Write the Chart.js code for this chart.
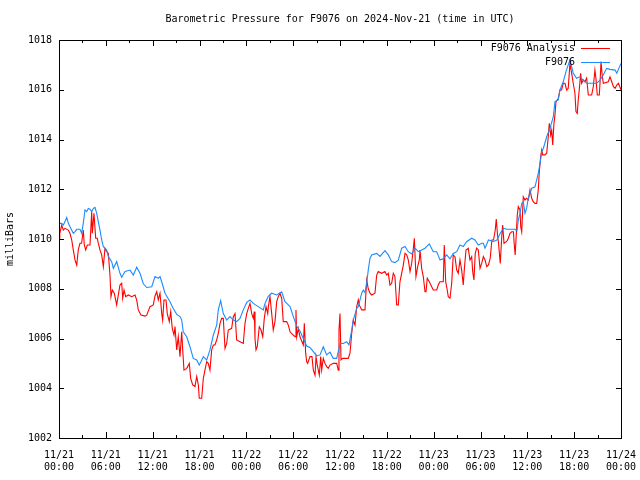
<!DOCTYPE html>
<html>
<head>
<meta charset="utf-8">
<script src="https://cdn.jsdelivr.net/npm/chart.js@4/dist/chart.umd.min.js"></script>
<style>
  html, body { margin: 0; padding: 0; background: #fff; }
  #wrap { width: 640px; height: 480px; }
</style>
</head>
<body>
<div id="wrap"><canvas id="chart"></canvas></div>
<script>
// Barometric pressure, hours since 2024-11-21 00:00 UTC
const titleText = 'Barometric Pressure for F9076 on 2024-Nov-21 (time in UTC)';
const yTitle = 'milliBars';
const tickDates = ['11/21', '11/21', '11/21', '11/21', '11/22', '11/22', '11/22', '11/22', '11/23', '11/23', '11/23', '11/23', '11/24'];
const tickTimes = ['00:00', '06:00', '12:00', '18:00', '00:00', '06:00', '12:00', '18:00', '00:00', '06:00', '12:00', '18:00', '00:00'];

// "F9076 Analysis" (red)
const analysisHours = [
  0, 0.1, 0.35, 0.55, 0.77, 1.2, 1.4, 1.63, 1.83, 2.05, 2.27, 2.47, 2.69, 2.9, 3.11, 3.24, 3.42, 3.63, 3.97, 4.19,
  4.27, 4.48, 4.7, 4.9, 5.03, 5.25, 5.47, 5.68, 5.89, 6.11, 6.32, 6.53, 6.66, 6.83, 7.08, 7.39, 7.81, 8.03, 8.16, 8.33,
  8.54, 8.88, 9.31, 9.74, 9.95, 10.16, 10.5, 11.02, 11.24, 11.66, 12.08, 12.3, 12.52, 12.72, 12.94, 13.16, 13.28, 13.45, 13.71, 13.87,
  14.13, 14.31, 14.51, 14.73, 14.86, 15.08, 15.28, 15.5, 15.72, 15.85, 16.01, 16.36, 16.69, 16.87, 17.13, 17.42, 17.64, 17.85, 17.97, 18.28,
  18.49, 18.7, 18.92, 19.12, 19.34, 19.56, 19.77, 19.98, 20.2, 20.41, 20.63, 20.84, 21.05, 21.18, 21.27, 21.48, 21.69, 22.12, 22.33, 22.55,
  22.76, 23.19, 23.61, 23.83, 24.05, 24.25, 24.47, 24.69, 24.89, 25.02, 25.11, 25.24, 25.4, 25.66, 25.88, 26.1, 26.3, 26.52, 26.74, 26.82,
  27.03, 27.25, 27.45, 27.67, 27.89, 28.09, 28.31, 28.53, 28.73, 29.17, 29.38, 29.6, 30.02, 30.24, 30.36, 30.45, 30.66, 30.87, 31.3, 31.43,
  31.6, 31.73, 31.86, 32.15, 32.41, 32.58, 32.8, 32.93, 33.09, 33.35, 33.53, 33.65, 33.86, 34.08, 34.29, 34.5, 34.72, 35.14, 35.58, 35.78,
  35.87, 36.0, 36.13, 36.34, 36.77, 37.06, 37.28, 37.5, 37.7, 37.92, 38.14, 38.34, 38.47, 38.78, 39.2, 39.42, 39.62, 39.84, 40.06, 40.48,
  40.7, 40.9, 41.34, 41.76, 41.98, 42.19, 42.4, 42.62, 42.83, 43.04, 43.26, 43.47, 43.68, 43.9, 44.11, 44.33, 44.54, 44.75, 44.97, 45.18,
  45.4, 45.52, 45.73, 45.95, 46.16, 46.25, 46.46, 46.67, 46.89, 47.02, 47.18, 47.44, 47.75, 47.95, 48.39, 48.59, 48.81, 49.23, 49.36, 49.54,
  49.74, 49.87, 50.09, 50.31, 50.51, 50.73, 50.95, 51.15, 51.37, 51.59, 51.79, 51.92, 52.14, 52.43, 52.65, 52.87, 53.0, 53.16, 53.33, 53.51,
  53.72, 53.94, 54.15, 54.37, 54.58, 54.8, 55.02, 55.24, 55.46, 55.67, 55.89, 56.02, 56.18, 56.31, 56.53, 56.75, 56.84, 57.01, 57.36, 57.57,
  57.78, 58.0, 58.22, 58.31, 58.44, 58.57, 58.71, 58.84, 59.06, 59.15, 59.28, 59.48, 59.7, 59.91, 60.12, 60.34, 60.56, 60.76, 60.98, 61.2,
  61.4, 61.53, 61.71, 61.84, 61.97, 62.26, 62.48, 62.68, 62.81, 62.99, 63.12, 63.25, 63.41, 63.54, 63.67, 63.96, 64.18, 64.39, 64.6, 64.82,
  65.04, 65.24, 65.46, 65.68, 65.88, 66.1, 66.23, 66.4, 66.52, 66.65, 66.83, 66.96, 67.17, 67.38, 67.6, 67.81, 68.24, 68.45, 68.66, 68.79,
  68.96, 69.22, 69.31, 69.44, 69.57, 69.73, 70.37, 70.59, 70.81, 71.03, 71.24, 71.46, 71.67, 72
];
const analysisValues = [
  1010.03, 1010.23, 1010.56, 1010.36, 1010.43, 1010.36, 1010.23, 1009.96, 1009.56, 1009.16, 1008.95, 1009.56, 1009.83, 1009.83, 1010.36, 1009.76, 1009.56, 1009.76, 1009.76, 1011.1,
  1010.23, 1011.03, 1010.03, 1010.03, 1009.83, 1009.56, 1009.36, 1008.89, 1009.63, 1009.49, 1009.42, 1008.55, 1007.68, 1007.95, 1007.82, 1007.35, 1008.15, 1008.22, 1007.62, 1007.95,
  1007.68, 1007.75, 1007.68, 1007.75, 1007.55, 1007.15, 1006.94, 1006.9, 1006.94, 1007.28, 1007.35, 1007.71, 1007.88, 1007.55, 1007.82, 1007.0, 1006.74, 1007.55, 1007.55, 1007.0,
  1006.68, 1007.08, 1006.41, 1006.14, 1006.48, 1005.54, 1006.07, 1005.27, 1006.27, 1005.54, 1004.73, 1004.8, 1005.0, 1004.4, 1004.13, 1004.07, 1004.47, 1004.13, 1003.6, 1003.6,
  1004.4, 1004.73, 1005.07, 1005.0, 1004.73, 1005.54, 1005.74, 1005.74, 1005.94, 1006.21, 1006.61, 1006.81, 1006.81, 1006.07, 1005.6, 1005.8, 1006.34, 1006.41, 1006.88, 1007.0,
  1005.94, 1005.87, 1005.8, 1006.61, 1007.0, 1007.21, 1007.41, 1007.0, 1006.81, 1007.08, 1006.0, 1005.54, 1005.67, 1006.47, 1006.34, 1006.07, 1006.81, 1007.28, 1007.0, 1007.28,
  1007.68, 1007.0, 1006.34, 1006.68, 1007.48, 1007.68, 1007.82, 1007.62, 1006.68, 1006.68, 1006.54, 1006.27, 1006.14, 1006.07, 1007.15, 1006.07, 1006.41, 1006.07, 1005.74, 1006.61,
  1005.41, 1005.07, 1005.0, 1005.27, 1005.27, 1004.73, 1004.53, 1005.27, 1004.93, 1004.53, 1005.27, 1004.73, 1005.2, 1005.0, 1004.87, 1004.8, 1004.93, 1005.0, 1005.0, 1004.73,
  1006.34, 1007.0, 1005.14, 1005.2, 1005.2, 1005.2, 1005.41, 1006.21, 1006.74, 1006.54, 1007.28, 1007.55, 1007.35, 1007.15, 1007.15, 1008.35, 1008.0, 1007.82, 1007.75, 1007.82,
  1008.55, 1008.69, 1008.62, 1008.69, 1008.55, 1008.62, 1008.15, 1008.22, 1008.62, 1008.49, 1007.35, 1007.35, 1008.28, 1008.62, 1008.95, 1009.42, 1009.36, 1009.16, 1008.69, 1009.02,
  1009.63, 1010.03, 1008.49, 1008.89, 1009.16, 1009.56, 1008.82, 1008.49, 1007.88, 1007.88, 1008.42, 1008.28, 1008.08, 1007.95, 1007.95, 1008.15, 1008.28, 1008.28, 1009.76, 1008.28,
  1007.95, 1007.68, 1007.62, 1008.22, 1009.36, 1009.29, 1008.75, 1008.62, 1009.16, 1008.75, 1008.15, 1008.75, 1009.56, 1009.63, 1009.16, 1009.29, 1008.69, 1008.35, 1009.42, 1009.63,
  1009.56, 1008.82, 1009.02, 1009.29, 1009.16, 1008.89, 1008.96, 1009.22, 1009.96, 1009.96, 1010.36, 1010.8, 1010.16, 1009.83, 1009.02, 1010.23, 1010.56, 1009.83, 1009.9, 1010.03,
  1010.23, 1010.29, 1010.29, 1009.83, 1009.36, 1010.1, 1010.96, 1011.3, 1011.17, 1010.5, 1010.29, 1011.7, 1011.57, 1011.64, 1011.57, 1011.97, 1011.64, 1011.5, 1011.43, 1011.43,
  1011.97, 1012.7, 1013.31, 1013.58, 1013.38, 1013.38, 1013.45, 1014.11, 1014.65, 1014.18, 1014.38, 1013.78, 1014.65, 1014.99, 1015.52, 1015.65, 1015.99, 1015.99, 1016.26, 1016.26,
  1015.99, 1016.06, 1017.06, 1016.66, 1016.26, 1015.86, 1015.12, 1015.05, 1015.59, 1015.99, 1016.66, 1016.26, 1016.39, 1016.32, 1016.46, 1015.79, 1015.79, 1016.12, 1016.79, 1016.46,
  1015.79, 1015.79, 1016.26, 1017.13, 1016.66, 1016.26, 1016.32, 1016.52, 1016.32, 1016.12, 1016.06, 1016.19, 1016.26, 1016.0
];

// "F9076" observations (blue)
const stationHours = [
  0, 0.35, 0.55, 0.77, 0.99, 1.2, 1.41, 1.83, 2.05, 2.27, 2.69, 2.9, 3.11, 3.33, 3.55, 3.75, 3.97, 4.19, 4.4, 4.61,
  4.83, 5.03, 5.25, 5.47, 5.68, 6.11, 6.32, 6.75, 6.96, 7.39, 7.81, 8.03, 8.46, 9.1, 9.52, 9.95, 10.38, 10.8, 11.24, 11.88,
  12.3, 12.72, 12.94, 13.16, 13.58, 14.22, 14.64, 15.08, 15.5, 15.72, 15.92, 16.36, 16.78, 17.2, 17.64, 17.97, 18.49, 18.92, 19.34, 19.77,
  20.2, 20.41, 20.71, 21.05, 21.48, 21.9, 22.33, 22.76, 23.19, 23.61, 24.05, 24.47, 24.89, 25.53, 26.17, 26.39, 26.81, 27.25, 27.89, 28.53,
  28.95, 29.38, 29.6, 30.02, 30.45, 30.87, 31.3, 31.73, 32.15, 32.58, 33.01, 33.44, 33.86, 34.29, 34.72, 35.14, 35.58, 36.0, 36.42, 36.86,
  37.15, 37.5, 37.7, 38.14, 38.34, 38.56, 38.78, 38.98, 39.2, 39.42, 39.62, 39.84, 40.06, 40.7, 41.12, 41.76, 42.19, 42.62, 43.04, 43.47,
  43.9, 44.33, 44.75, 45.18, 45.61, 46.03, 46.46, 46.89, 47.44, 47.95, 48.39, 48.81, 49.23, 49.66, 50.09, 50.51, 50.95, 51.37, 51.79, 52.22,
  52.87, 53.29, 53.72, 54.15, 54.37, 54.58, 55.02, 55.67, 56.1, 56.53, 56.96, 57.36, 57.78, 58.42, 58.68, 58.84, 59.06, 59.28, 59.48, 59.7,
  59.91, 60.12, 60.34, 60.56, 60.98, 61.4, 61.63, 61.84, 62.05, 62.48, 62.9, 63.33, 63.54, 63.96, 64.18, 64.6, 64.95, 65.24, 65.46, 65.68,
  65.88, 66.31, 66.73, 67.17, 67.6, 68.02, 68.88, 69.31, 69.73, 70.16, 70.59, 71.24, 71.46, 71.67, 72
];
const stationValues = [
  1010.63, 1010.63, 1010.56, 1010.7, 1010.87, 1010.63, 1010.49, 1010.23, 1010.3, 1010.39, 1010.39, 1010.23, 1010.63, 1011.17, 1011.1, 1011.23, 1011.2, 1011.1, 1011.23, 1011.27,
  1011.03, 1010.7, 1010.36, 1009.96, 1009.69, 1009.56, 1009.29, 1009.09, 1008.82, 1009.09, 1008.62, 1008.46, 1008.69, 1008.75, 1008.55, 1008.86, 1008.62, 1008.2, 1008.05, 1008.08,
  1008.49, 1008.42, 1008.49, 1008.28, 1007.82, 1007.48, 1007.21, 1006.97, 1006.88, 1006.74, 1006.27, 1006.07, 1005.67, 1005.2, 1005.14, 1004.93, 1005.27, 1005.14, 1005.54, 1006.14,
  1006.54, 1007.15, 1007.52, 1007.0, 1006.74, 1006.88, 1006.74, 1006.68, 1006.81, 1007.15, 1007.45, 1007.55, 1007.41, 1007.28, 1007.15, 1007.41, 1007.7, 1007.82, 1007.75, 1007.88,
  1007.48, 1007.35, 1007.28, 1006.88, 1006.5, 1006.3, 1006.0, 1005.7, 1005.64, 1005.47, 1005.3, 1005.34, 1005.67, 1005.34, 1005.45, 1005.2, 1005.2, 1005.8, 1005.8, 1005.87,
  1005.74, 1006.34, 1006.74, 1007.21, 1007.28, 1007.55, 1007.82, 1007.95, 1007.85, 1008.22, 1008.75, 1009.22, 1009.36, 1009.42, 1009.3, 1009.53, 1009.36, 1009.09, 1009.05, 1009.15,
  1009.63, 1009.7, 1009.49, 1009.4, 1009.63, 1009.49, 1009.56, 1009.63, 1009.8, 1009.49, 1009.49, 1009.16, 1009.2, 1009.36, 1009.2, 1009.42, 1009.49, 1009.76, 1009.7, 1009.89,
  1010.03, 1009.96, 1009.76, 1009.83, 1009.83, 1009.63, 1009.96, 1009.9, 1009.96, 1010.23, 1010.43, 1010.39, 1010.39, 1010.39, 1010.33, 1010.76, 1011.03, 1011.43, 1011.5, 1011.03,
  1011.23, 1011.64, 1011.84, 1012.04, 1012.1, 1012.64, 1013.04, 1013.51, 1013.64, 1014.11, 1014.45, 1014.92, 1015.52, 1015.59, 1015.99, 1016.32, 1016.73, 1017.0, 1017.2, 1016.93,
  1016.66, 1016.46, 1016.52, 1016.39, 1016.26, 1016.26, 1016.26, 1016.39, 1016.59, 1016.86, 1016.82, 1016.79, 1016.66, 1016.82, 1017.06
];

const FONT = '"DejaVu Sans Mono", "Liberation Mono", monospace';

function toPoints(xs, ys) {
  return xs.map((h, i) => ({ x: h, y: ys[i] }));
}

// frame, inward tick marks, title and the legend drawn gnuplot-style
const frameTicks = {
  id: 'frameTicks',
  afterDatasetsDraw(chart) {
    const { ctx, chartArea: a, scales } = chart;
    ctx.save();
    ctx.strokeStyle = '#000';
    ctx.lineWidth = 1;
    ctx.beginPath();
    // y ticks on both sides
    for (let v = scales.y.min; v <= scales.y.max; v += 2) {
      const py = Math.round(scales.y.getPixelForValue(v)) + 0.5;
      ctx.moveTo(a.left, py); ctx.lineTo(a.left + 5, py);
      ctx.moveTo(a.right, py); ctx.lineTo(a.right - 5, py);
    }
    // x ticks every 3 h, long ones on labelled hours
    for (let h = scales.x.min; h <= scales.x.max; h += 3) {
      const px = Math.round(scales.x.getPixelForValue(h)) + 0.5;
      const len = h % 6 === 0 ? 6 : 3;
      ctx.moveTo(px, a.bottom); ctx.lineTo(px, a.bottom - len);
      ctx.moveTo(px, a.top); ctx.lineTo(px, a.top + len);
    }
    ctx.stroke();
    ctx.strokeRect(Math.round(a.left) + 0.5, Math.round(a.top) + 0.5,
      Math.round(a.right - a.left), Math.round(a.bottom - a.top));

    // legend, text right-aligned left of the sample line
    ctx.font = '10px ' + FONT;
    ctx.textAlign = 'right';
    ctx.textBaseline = 'middle';
    const legendOrder = [0, 1];
    legendOrder.forEach((di, row) => {
      const ds = chart.data.datasets[di];
      const y = a.top + 8 + row * 14;
      ctx.fillStyle = '#000';
      ctx.fillText(ds.label, a.right - 46, y);
      ctx.strokeStyle = ds.borderColor;
      ctx.beginPath();
      ctx.moveTo(a.right - 40, Math.round(y) + 0.5);
      ctx.lineTo(a.right - 11, Math.round(y) + 0.5);
      ctx.stroke();
    });

    // title
    ctx.fillStyle = '#000';
    ctx.textAlign = 'center';
    ctx.fillText(titleText, (a.left + a.right) / 2, 19);
    ctx.restore();
  }
};

new Chart(document.getElementById('chart'), {
  type: 'line',
  data: {
    datasets: [
      {
        label: 'F9076 Analysis',
        data: toPoints(analysisHours, analysisValues),
        borderColor: '#ff0000',
        borderWidth: 1.1,
        pointRadius: 0,
        tension: 0,
        fill: false,
        order: 2
      },
      {
        label: 'F9076',
        data: toPoints(stationHours, stationValues),
        borderColor: '#1a8cff',
        borderWidth: 1.1,
        pointRadius: 0,
        tension: 0,
        fill: false,
        order: 1
      }
    ]
  },
  options: {
    responsive: true,
    maintainAspectRatio: false,
    animation: false,
    devicePixelRatio: 1,
    layout: { padding: { top: 40, right: 19, left: 0, bottom: 0 } },
    plugins: {
      legend: { display: false },
      title: { display: false },
      tooltip: { enabled: false }
    },
    scales: {
      x: {
        type: 'linear',
        min: 0,
        max: 72,
        border: { display: false },
        grid: { display: false, drawTicks: false },
        ticks: {
          stepSize: 6,
          autoSkip: false,
          maxRotation: 0,
          padding: 11,
          color: '#000',
          font: { family: FONT, size: 10, lineHeight: 1.2 },
          callback: (v) => {
            const i = Math.round(v / 6);
            return [tickDates[i], tickTimes[i]];
          }
        },
        afterFit: (s) => {
          s.height = 42;
          s.paddingLeft = 0;
          s.paddingRight = 0;
        }
      },
      y: {
        min: 1002,
        max: 1018,
        border: { display: false },
        grid: { display: false, drawTicks: false },
        ticks: {
          stepSize: 2,
          padding: 7,
          color: '#000',
          font: { family: FONT, size: 10 },
          callback: (v) => String(v)
        },
        title: {
          display: true,
          text: yTitle,
          color: '#000',
          font: { family: FONT, size: 10 },
          padding: { top: 4, bottom: 4 }
        },
        afterFit: (s) => {
          s.width = 59;
          s.paddingTop = 0;
          s.paddingBottom = 0;
        }
      }
    }
  },
  plugins: [frameTicks]
});
</script>
</body>
</html>
